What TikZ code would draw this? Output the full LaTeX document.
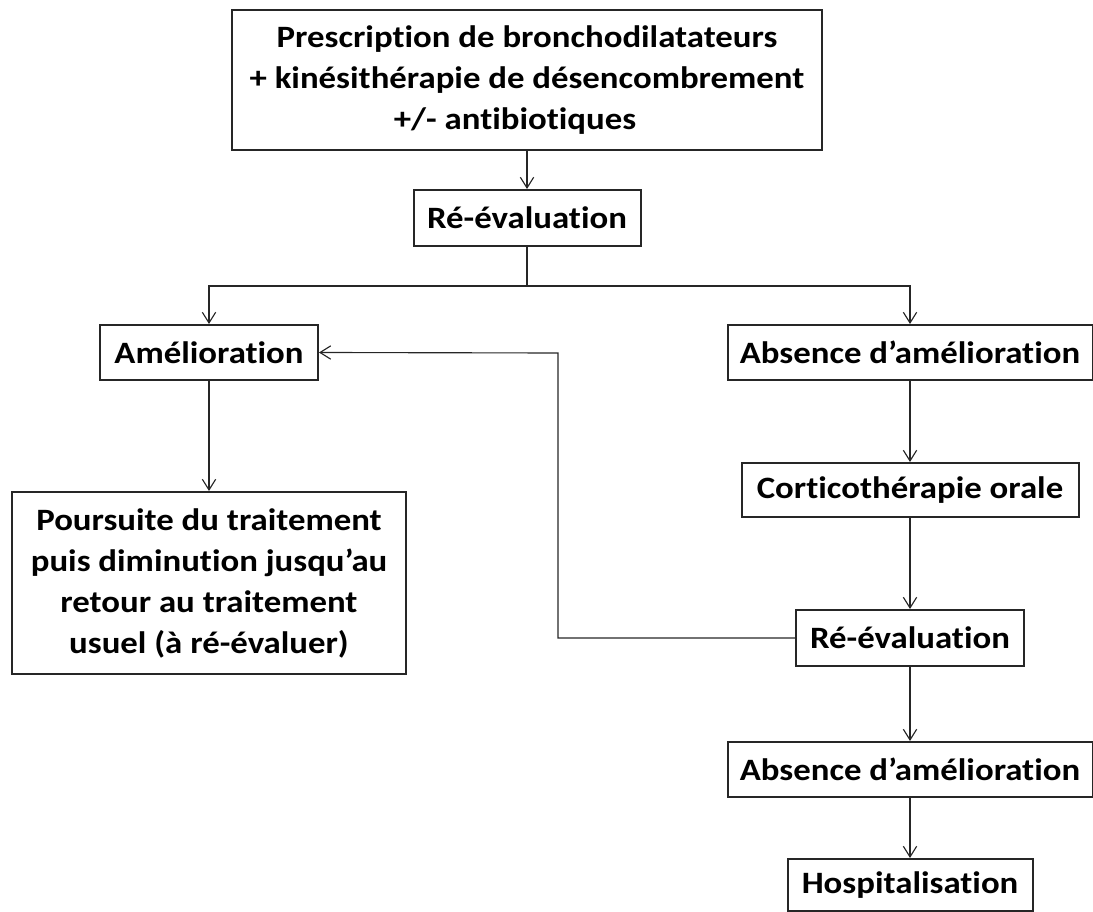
\documentclass[tikz,border=0pt]{standalone}
\usepackage{fontspec}
\setmainfont{Carlito}[FakeStretch=1.12,Ligatures=NoCommon]
\usetikzlibrary{arrows.meta}
\tikzset{
  box/.style={draw=black!85, line width=1.5pt, inner sep=0pt, align=center,
    font=\fontsize{23.3}{30.75}\selectfont\bfseries},
  arr/.style={draw=black!85, line width=0.85pt, -{Straight Barb[length=8pt,width=10pt]}},
  conn/.style={draw=black!85, line width=0.85pt}
}
\begin{document}
\begin{tikzpicture}[x=0.75pt,y=-0.75pt]
\useasboundingbox (0,0) rectangle (1093,912);
\node[box, minimum width=442.5pt, minimum height=105pt] (top) at (527,80)
  {Prescription de bronchodilatateurs\\+ kinésithérapie de désencombrement\\+/- antibiotiques\hspace*{18pt}};
\node[box, minimum width=170.25pt, minimum height=42pt] (re1) at (527,218) {Ré-évaluation};
\node[box, minimum width=163.5pt, minimum height=41.25pt] (amel) at (209,352.5) {Amélioration};
\node[box, minimum width=273.75pt, minimum height=41.25pt] (abs1) at (910,352.5) {Absence d’amélioration};
\node[box, minimum width=252.75pt, minimum height=40.5pt] (cort) at (910,490) {Corticothérapie orale};
\node[box, minimum width=171pt, minimum height=42pt] (re2) at (910,638) {Ré-évaluation};
\node[box, minimum width=295.5pt, minimum height=136.5pt] (pours) at (209,583)
  {Poursuite du traitement\\puis diminution jusqu’au\\retour au traitement\\usuel (à ré-évaluer)};
\node[box, minimum width=273.75pt, minimum height=41.25pt] (abs2) at (910,769.5) {Absence d’amélioration};
\node[box, minimum width=183.75pt, minimum height=39pt] (hosp) at (910,885) {Hospitalisation};
\coordinate (j) at (527,286);
\coordinate (bend) at (558,353);
\draw[arr] (top.south) -- (re1.north);
\draw[conn] (re1.south) -- (j);
\draw[arr] (j) -| (amel.north);
\draw[arr] (j) -| (abs1.north);
\draw[arr] (amel.south) -- (pours.north);
\draw[arr] (abs1.south) -- (cort.north);
\draw[arr] (cort.south) -- (re2.north);
\draw[arr] (re2.west) -| (bend) -- (amel.east);
\draw[arr] (re2.south) -- (abs2.north);
\draw[arr] (abs2.south) -- (hosp.north);
\end{tikzpicture}
\end{document}
